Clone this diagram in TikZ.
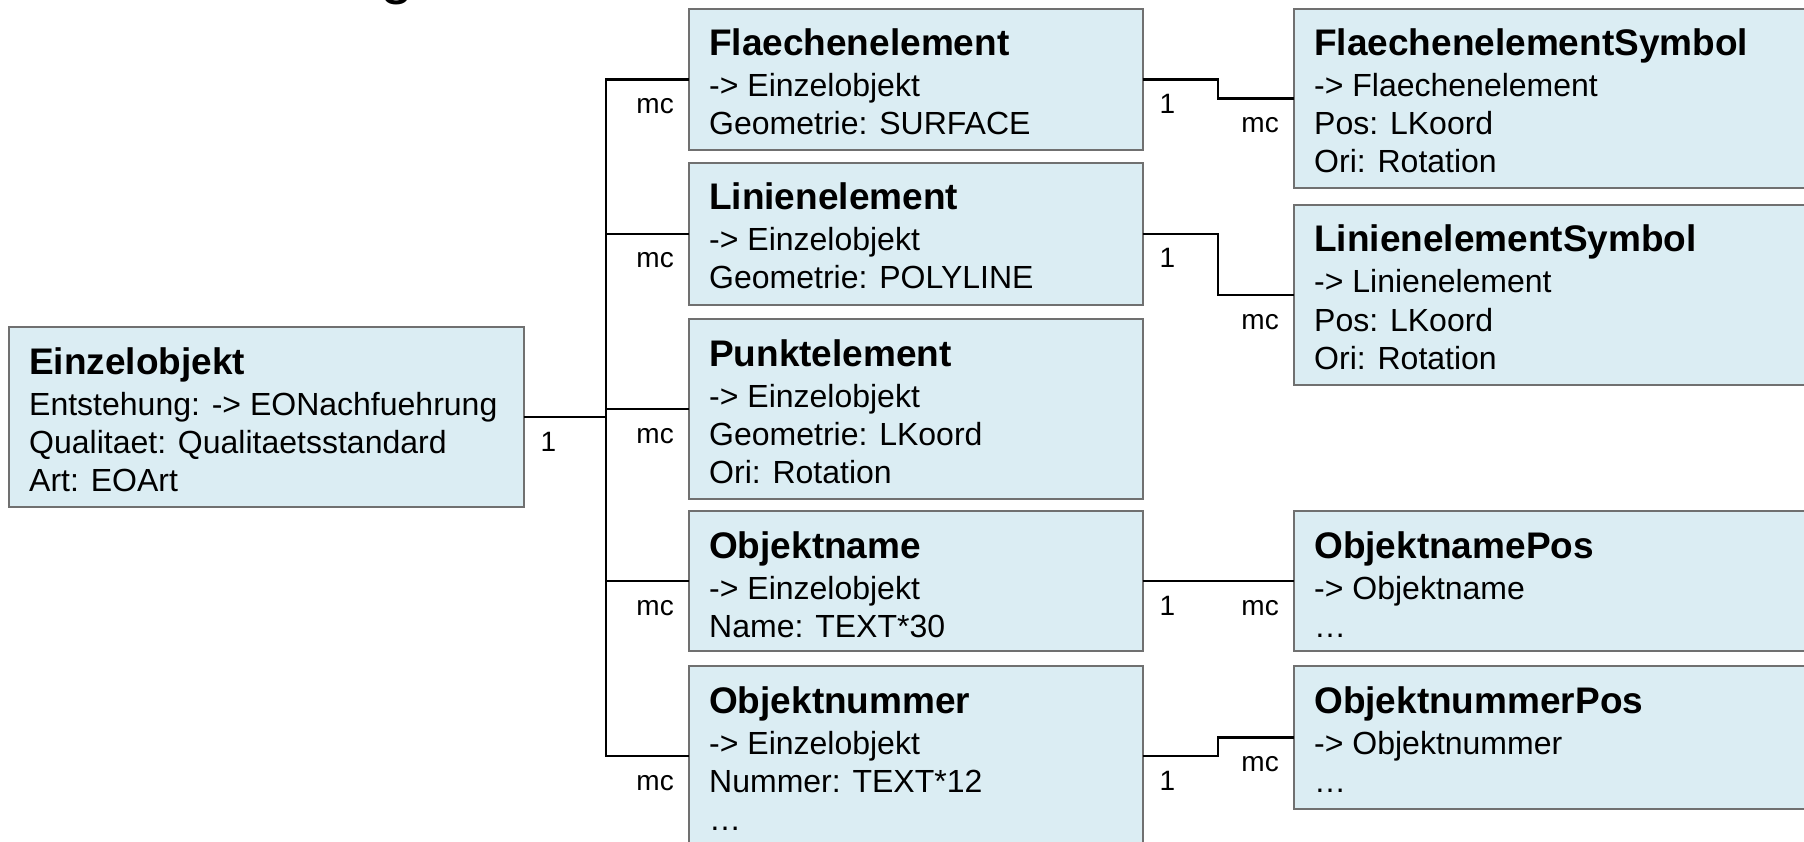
\documentclass[tikz,border=0pt]{standalone}
\usepackage{fontspec}
\setmainfont{Liberation Sans}

\definecolor{boxfill}{RGB}{219,237,243}
\definecolor{boxline}{RGB}{112,112,112}

\tikzset{
  umlbox/.style={draw=boxline, fill=boxfill, line width=2pt, inner sep=0pt, outer sep=0pt},
  umltitle/.style={inner sep=0pt, font=\fontsize{37}{40}\selectfont\bfseries},
  umlbody/.style={inner sep=0pt, font=\fontsize{32}{38}\selectfont},
  mult/.style={inner sep=0pt, font=\fontsize{28}{30}\selectfont},
  conn/.style={line width=2.2pt, black},
}

% class box: name, x, y (top left), width, height, title, attribute lines
\newcommand\classbox[7]{%
  \node[umlbox, minimum width=#4pt, minimum height=#5pt, anchor=north west] (#1) at (#2,#3) {};
  \node[umltitle, anchor=base west] (#1-t) at ([xshift=20pt,yshift=-47pt]#1.north west) {#6};
  \foreach \lineText [count=\idx] in {#7} {%
    \pgfmathsetmacro\dy{88+(\idx-1)*38}
    \node[umlbody, anchor=base west] (#1-\idx) at ([xshift=20pt,yshift=-\dy pt]#1.north west) {\lineText};
  }%
}

\begin{document}
\begin{tikzpicture}[x=1pt, y=-1pt]
  \useasboundingbox (0,0) rectangle (1804,842);
  \fill[white] (0,0) rectangle (1804,842);
  \clip (0,0) rectangle (1804,842);

  % heading, mostly above the page
  \node[inner sep=0pt, anchor=base west, font=\fontsize{60}{60}\selectfont] (heading) at (380,-7) {g};

  % classes
  \classbox{eo}{9}{327}{514.5}{180}{Einzelobjekt}{Entstehung: -> EONachfuehrung, Qualitaet: Qualitaetsstandard, Art: EOArt}
  \classbox{flae}{689}{9}{453.5}{141}{Flaechenelement}{-> Einzelobjekt, Geometrie: SURFACE}
  \classbox{lin}{689}{163}{453.5}{142}{Linienelement}{-> Einzelobjekt, Geometrie: POLYLINE}
  \classbox{punkt}{689}{319}{453.5}{180}{Punktelement}{-> Einzelobjekt, Geometrie: LKoord, Ori: Rotation}
  \classbox{oname}{689}{511}{453.5}{140}{Objektname}{-> Einzelobjekt, Name: TEXT*30}
  \classbox{onum}{689}{666}{453.5}{180}{Objektnummer}{-> Einzelobjekt, Nummer: TEXT*12, …}
  \classbox{fs}{1294}{9}{560}{179}{FlaechenelementSymbol}{-> Flaechenelement, Pos: LKoord, Ori: Rotation}
  \classbox{ls}{1294}{205}{560}{180}{LinienelementSymbol}{-> Linienelement, Pos: LKoord, Ori: Rotation}
  \classbox{onp}{1294}{511}{560}{140}{ObjektnamePos}{-> Objektname, …}
  \classbox{onup}{1294}{666}{560}{143}{ObjektnummerPos}{-> Objektnummer, …}

  % associations
  \coordinate (trunk) at (606,0);
  \coordinate (step) at (1218,0);
  \draw[conn] (eo.east) -- (eo.east -| trunk);
  \draw[conn] (flae.west) -| (trunk |- onum.west) -- (onum.west);
  \foreach \n in {lin,punkt,oname} \draw[conn] (\n.west) -- (\n.west -| trunk);
  \draw[conn] (flae.east) -| (step |- fs.west) -- (fs.west);
  \draw[conn] (lin.east) -| (step |- ls.west) -- (ls.west);
  \draw[conn] (oname.east) -- (onp.west);
  \draw[conn] (onum.east) -| (step |- onup.west) -- (onup.west);

  % multiplicities
  \node[mult, anchor=base west] (one-eo) at ([xshift=17pt,yshift=-34pt]eo.east) {1};
  \foreach \n in {flae,lin,punkt,oname,onum}
    \node[mult, anchor=base east] (mc-\n) at ([xshift=-15pt,yshift=-34pt]\n.west) {mc};
  \foreach \n in {flae,lin,oname,onum}
    \node[mult, anchor=base west] (one-\n) at ([xshift=17pt,yshift=-34pt]\n.east) {1};
  \foreach \n in {fs,ls,onp,onup}
    \node[mult, anchor=base east] (mc-\n) at ([xshift=-15pt,yshift=-34pt]\n.west) {mc};
\end{tikzpicture}
\end{document}
